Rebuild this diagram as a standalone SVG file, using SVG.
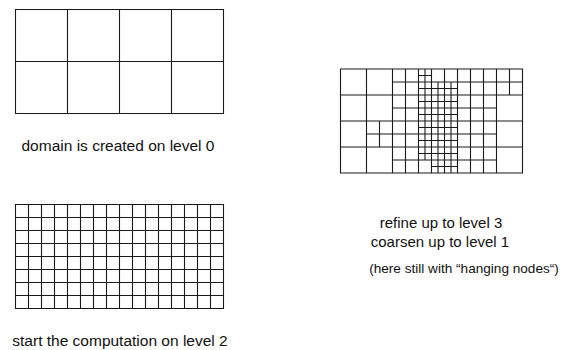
<svg xmlns="http://www.w3.org/2000/svg" width="561" height="350" viewBox="0 0 561 350">
  <style>
    .mesh { fill: none; stroke: #1a1a1a; stroke-width: 1.1; }
    .lbl { font-family: "Liberation Sans", Arial, Helvetica, sans-serif; font-size: 15px; fill: #111; }
    .mid { text-anchor: middle; }
  </style>
  <rect width="561" height="350" fill="#fff"/>

  <g id="mesh-level0">
    <path class="mesh" d="M15.5 9.5H223.5V113.5H15.5Z M67.5 9.5V113.5 M119.5 9.5V113.5 M171.5 9.5V113.5 M15.5 61.5H223.5"/>
  </g>

  <g id="label-level0">
    <text class="lbl mid" x="118" y="151" style="font-size:15.5px">domain is created on level 0</text>
  </g>

  <g id="mesh-level2">
    <path class="mesh" d="M15.5 204.5H223.5V308.5H15.5Z
      M28.5 204.5V308.5 M41.5 204.5V308.5 M54.5 204.5V308.5 M67.5 204.5V308.5 M80.5 204.5V308.5
      M93.5 204.5V308.5 M106.5 204.5V308.5 M119.5 204.5V308.5 M132.5 204.5V308.5 M145.5 204.5V308.5
      M158.5 204.5V308.5 M171.5 204.5V308.5 M184.5 204.5V308.5 M197.5 204.5V308.5 M210.5 204.5V308.5
      M15.5 217.5H223.5 M15.5 230.5H223.5 M15.5 243.5H223.5 M15.5 256.5H223.5
      M15.5 269.5H223.5 M15.5 282.5H223.5 M15.5 295.5H223.5"/>
  </g>

  <g id="label-level2">
    <text class="lbl mid" x="120" y="346" style="font-size:15.5px">start the computation on level 2</text>
  </g>

  <g id="mesh-adaptive">
    <path class="mesh" d="M340.5 69H522.5V173H340.5Z
      M366.5 69V173 M392.5 69V173 M418.5 69V173 M444.5 69V173 M470.5 69V173 M496.5 69V173
      M340.5 95H522.5 M340.5 121H522.5 M340.5 147H522.5
      M379.5 121V147 M405.5 69V173 M431.5 69V173 M457.5 69V173 M483.5 69V173 M509.5 69V95
      M392.5 82H522.5 M392.5 108H496.5 M366.5 134H496.5 M392.5 160H496.5
      M425 69V160 M438 82V173 M451 82V173
      M418.5 75.5H431.5 M418.5 88.5H457.5 M418.5 101.5H457.5 M418.5 114.5H457.5
      M418.5 127.5H457.5 M418.5 140.5H457.5 M418.5 153.5H457.5 M431.5 166.5H457.5"/>
  </g>

  <g id="label-adaptive">
    <text class="lbl mid" x="441" y="227.5">refine up to level 3</text>
    <text class="lbl mid" x="440" y="247">coarsen up to level 1</text>
    <text class="lbl" x="464" y="273" text-anchor="middle" style="font-size:13.6px">(here still with “hanging nodes“)</text>
  </g>
</svg>
